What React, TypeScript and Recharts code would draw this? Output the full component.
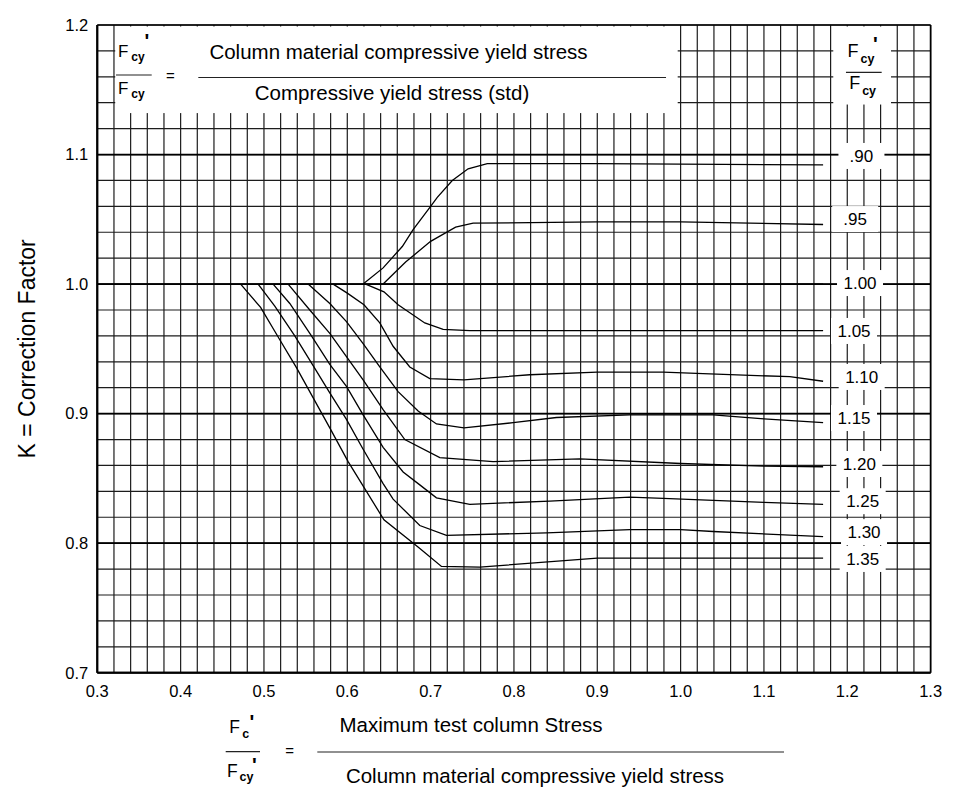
import React from 'react';
import { LineChart, Line, XAxis, YAxis, CartesianGrid, ReferenceArea, ReferenceDot } from 'recharts';

const FONT = "'Liberation Sans', Arial, Helvetica, sans-serif";

// ---- axis ticks ----
const xMajorTicks = [0.3, 0.4, 0.5, 0.6, 0.7, 0.8, 0.9, 1.0, 1.1, 1.2, 1.3];
const xTickLabels = ['0.3', '0.4', '0.5', '0.6', '0.7', '0.8', '0.9', '1.0', '1.1', '1.2', '1.3'];
const yMajorTicks = [0.7, 0.8, 0.9, 1.0, 1.1, 1.2];
const yTickLabels = ['0.7', '0.8', '0.9', '1.0', '1.1', '1.2'];
const gridStep = 0.02;

// ---- curves: K vs Fc'/Fcy' for each Fcy'/Fcy ----
const k090X = [0.619, 0.643, 0.666, 0.679, 0.700, 0.708, 0.726, 0.745, 0.768, 0.900, 1.171];
const k090Y = [1.000, 1.0125, 1.029, 1.042, 1.060, 1.067, 1.080, 1.089, 1.093, 1.093, 1.092];

const k095X = [0.643, 0.670, 0.700, 0.730, 0.751, 0.900, 1.000, 1.171];
const k095Y = [1.000, 1.017, 1.033, 1.044, 1.047, 1.048, 1.048, 1.046];

const k100X = [0.3, 1.171];
const k100Y = [1.0, 1.0];

const k105X = [0.622, 0.644, 0.661, 0.693, 0.715, 0.747, 1.171];
const k105Y = [1.000, 0.994, 0.984, 0.970, 0.965, 0.964, 0.964];

const k110X = [0.583, 0.600, 0.620, 0.639, 0.655, 0.675, 0.699, 0.740, 0.819, 0.900, 0.979, 1.019, 1.131, 1.171];
const k110Y = [1.000, 0.993, 0.984, 0.970, 0.952, 0.936, 0.927, 0.926, 0.930, 0.932, 0.932, 0.931, 0.9285, 0.925];

const k115X = [0.553, 0.579, 0.599, 0.619, 0.639, 0.661, 0.685, 0.707, 0.740, 0.799, 0.851, 0.939, 1.039, 1.100, 1.171];
const k115Y = [1.000, 0.985, 0.971, 0.954, 0.936, 0.917, 0.902, 0.892, 0.889, 0.893, 0.897, 0.899, 0.899, 0.896, 0.893];

const k120X = [0.529, 0.555, 0.579, 0.599, 0.619, 0.643, 0.669, 0.711, 0.775, 0.879, 1.000, 1.100, 1.171];
const k120Y = [1.000, 0.980, 0.962, 0.944, 0.926, 0.903, 0.880, 0.866, 0.863, 0.865, 0.8615, 0.8595, 0.859];

const k125X = [0.511, 0.531, 0.557, 0.579, 0.599, 0.619, 0.643, 0.667, 0.687, 0.707, 0.747, 0.843, 0.939, 0.979, 1.100, 1.171];
const k125Y = [1.000, 0.985, 0.960, 0.938, 0.921, 0.899, 0.874, 0.855, 0.845, 0.835, 0.830, 0.8325, 0.8355, 0.8345, 0.8315, 0.830];

const k130X = [0.493, 0.513, 0.537, 0.559, 0.579, 0.599, 0.619, 0.643, 0.655, 0.687, 0.719, 0.839, 0.939, 1.000, 1.039, 1.171];
const k130Y = [1.000, 0.983, 0.960, 0.937, 0.916, 0.8955, 0.8725, 0.846, 0.834, 0.8136, 0.806, 0.808, 0.8105, 0.8105, 0.809, 0.805];

const k135X = [0.472, 0.496, 0.519, 0.539, 0.579, 0.601, 0.644, 0.686, 0.713, 0.759, 0.900, 1.171];
const k135Y = [1.000, 0.982, 0.957, 0.9355, 0.889, 0.863, 0.818, 0.7965, 0.782, 0.7815, 0.7885, 0.7885];

// ---- curve labels ----
const curveLabels = ['.90', '.95', '1.00', '1.05', '1.10', '1.15', '1.20', '1.25', '1.30', '1.35'];
const labelX = [1.217, 1.2095, 1.2153, 1.2081, 1.2173, 1.2081, 1.2145, 1.2185, 1.2201, 1.2185];
const labelY = [1.0989, 1.0502, 1.0008, 0.9638, 0.9283, 0.8966, 0.8611, 0.8324, 0.8085, 0.7878];

// ---- helpers ----
const toPts = (xs: number[], ys: number[]) => xs.map((x, i) => ({ x, y: ys[i] }));
const curves = [
  toPts(k090X, k090Y), toPts(k095X, k095Y), toPts(k100X, k100Y), toPts(k105X, k105Y),
  toPts(k110X, k110Y), toPts(k115X, k115Y), toPts(k120X, k120Y), toPts(k125X, k125Y),
  toPts(k130X, k130Y), toPts(k135X, k135Y),
];

const gridTicks = (lo: number, hi: number) => {
  const n = Math.round((hi - lo) / gridStep);
  return Array.from({ length: n + 1 }, (_, i) => Number((lo + i * gridStep).toFixed(2)));
};
const xMinorTicks = gridTicks(0.3, 1.3);
const yMinorTicks = gridTicks(0.7, 1.2);

const labelFor = (majors: number[], labels: string[]) => (v: number) => {
  const i = majors.findIndex((m) => Math.abs(m - v) < 1e-6);
  return i >= 0 ? labels[i] : '';
};

const T = { fill: '#000', fontFamily: FONT } as const;

function TopFormulaBox(p: any) {
  const { x, y, width, height } = p;
  return (
    <g>
      <rect x={x} y={y + 1.5} width={width} height={height - 1.5} fill="#fff" />
      <text {...T} x={x + 2.7} y={y + 32.3} fontSize={17}>F</text>
      <text {...T} x={x + 16} y={y + 35.5} fontSize={12} fontWeight="bold">cy</text>
      <text {...T} x={x + 29.2} y={y + 22.6} fontSize={20} fontWeight="bold">'</text>
      <line x1={x + 0.8} x2={x + 36.5} y1={y + 50} y2={y + 50} stroke="#222" strokeWidth={1.2} />
      <text {...T} x={x + 2.7} y={y + 69.3} fontSize={17}>F</text>
      <text {...T} x={x + 16} y={y + 73} fontSize={12} fontWeight="bold">cy</text>
      <text {...T} x={x + 55.1} y={y + 55.8} fontSize={15} textAnchor="middle">=</text>
      <line x1={x + 83.1} x2={x + 550.8} y1={y + 52.5} y2={y + 52.5} stroke="#222" strokeWidth={1.2} />
      <text {...T} x={x + 283.3} y={y + 34} fontSize={20.5} textAnchor="middle">Column material compressive yield stress</text>
      <text {...T} x={x + 276.8} y={y + 75} fontSize={20.5} textAnchor="middle">Compressive yield stress (std)</text>
    </g>
  );
}

function HeaderBox(p: any) {
  const { x, y, width, height } = p;
  return (
    <g>
      <rect x={x} y={y + 1.5} width={width} height={height - 1.5} fill="#fff" />
      <text {...T} x={x + 14.3} y={y + 31.7} fontSize={18}>F</text>
      <text {...T} x={x + 27.2} y={y + 37.5} fontSize={12.5} fontWeight="bold">cy</text>
      <text {...T} x={x + 39.8} y={y + 26} fontSize={20} fontWeight="bold">'</text>
      <line x1={x + 12.7} x2={x + 48.4} y1={y + 47.3} y2={y + 47.3} stroke="#222" strokeWidth={1.2} />
      <text {...T} x={x + 16} y={y + 64} fontSize={18}>F</text>
      <text {...T} x={x + 28.9} y={y + 69.5} fontSize={12.5} fontWeight="bold">cy</text>
    </g>
  );
}

function CurveLabel(p: any) {
  const { cx, cy, text } = p;
  return (
    <g>
      <rect x={cx - 23} y={cy - 13} width={46} height={26} fill="#fff" />
      <text {...T} x={cx} y={cy} dy="0.36em" fontSize={17} textAnchor="middle">{text}</text>
    </g>
  );
}

function BottomFormula(props: any) {
  const vb = props.viewBox || { x: 89.3, y: 664.7 };
  const L = vb.x;
  const B = vb.y;
  return (
    <g>
      <text {...T} x={L + 132} y={B + 60} fontSize={17.5}>F</text>
      <text {...T} x={L + 145} y={B + 65.6} fontSize={12.5} fontWeight="bold">c</text>
      <text {...T} x={L + 152.2} y={B + 55.9} fontSize={20} fontWeight="bold">'</text>
      <line x1={L + 128.4} x2={L + 162.7} y1={B + 79} y2={B + 79} stroke="#222" strokeWidth={1.2} />
      <text {...T} x={L + 129.6} y={B + 104} fontSize={17.5}>F</text>
      <text {...T} x={L + 142.2} y={B + 107.8} fontSize={12.5} fontWeight="bold">cy</text>
      <text {...T} x={L + 154.8} y={B + 98.9} fontSize={20} fontWeight="bold">'</text>
      <text {...T} x={L + 192.4} y={B + 83.3} fontSize={15} textAnchor="middle">=</text>
      <line x1={L + 220} x2={L + 686.7} y1={B + 79.3} y2={B + 79.3} stroke="#222" strokeWidth={1.2} />
      <text {...T} x={L + 373.7} y={B + 59.3} fontSize={20.5} textAnchor="middle">Maximum test column Stress</text>
      <text {...T} x={L + 437.7} y={B + 110.3} fontSize={20.5} textAnchor="middle">Column material compressive yield stress</text>
    </g>
  );
}

function YTitle(props: any) {
  const vb = props.viewBox || { x: 29.3, y: 17, width: 60, height: 647.7 };
  const cx = vb.x + vb.width - 70;
  const cy = vb.y + vb.height / 2;
  return (
    <text {...T} x={cx} y={cy} fontSize={23} textAnchor="middle" dominantBaseline="central"
      transform={`rotate(-90 ${cx} ${cy})`}>K = Correction Factor</text>
  );
}

export default function App() {
  const W = 946;
  const H = 784;
  return (
    <div style={{ width: W, height: H, fontFamily: FONT, background: '#fff' }}>
      <LineChart width={W} height={H} margin={{ top: 17, right: 23.4, bottom: 89.3, left: 29.3 }}>
        <XAxis type="number" dataKey="x" domain={[0.3, 1.3]} allowDataOverflow ticks={xMinorTicks} interval={0}
          tickFormatter={labelFor(xMajorTicks, xTickLabels)} tickLine={false} tickSize={6} tickMargin={6.3}
          height={30} axisLine={{ stroke: '#000', strokeWidth: 2 }}
          tick={{ fill: '#000', fontSize: 16.5, fontFamily: FONT }}
          label={{ content: BottomFormula }} />
        <YAxis type="number" domain={[0.7, 1.2]} allowDataOverflow ticks={yMinorTicks} interval={0}
          tickFormatter={labelFor(yMajorTicks, yTickLabels)} tickLine={false} tickSize={6} tickMargin={3}
          width={60} axisLine={{ stroke: '#000', strokeWidth: 2 }}
          tick={{ fill: '#000', fontSize: 16.5, fontFamily: FONT }}
          label={{ content: YTitle }} />
        <XAxis xAxisId="maj" type="number" domain={[0.3, 1.3]} allowDataOverflow ticks={xMajorTicks} hide />
        <YAxis yAxisId="maj" type="number" domain={[0.7, 1.2]} allowDataOverflow ticks={yMajorTicks} hide />
        <CartesianGrid stroke="#1c1c1c" strokeWidth={1.2} />
        <CartesianGrid xAxisId="maj" yAxisId="maj" stroke="#000" strokeWidth={1.7} />
        {curves.map((d, i) => (
          <Line key={curveLabels[i]} data={d} dataKey="y" type="linear" stroke="#000" strokeWidth={1.3}
            dot={false} activeDot={false} isAnimationActive={false} />
        ))}
        <ReferenceArea x1={0.3215} x2={0.9965} y1={1.132} y2={1.2} ifOverflow="visible"
          shape={(p: any) => <TopFormulaBox {...p} />} />
        <ReferenceArea x1={1.1832} x2={1.2525} y1={1.1386} y2={1.2} ifOverflow="visible"
          shape={(p: any) => <HeaderBox {...p} />} />
        {curveLabels.map((t, i) => (
          <ReferenceDot key={'lbl' + t} x={labelX[i]} y={labelY[i]} r={1} ifOverflow="visible"
            shape={(p: any) => <CurveLabel {...p} text={t} />} />
        ))}
      </LineChart>
    </div>
  );
}
